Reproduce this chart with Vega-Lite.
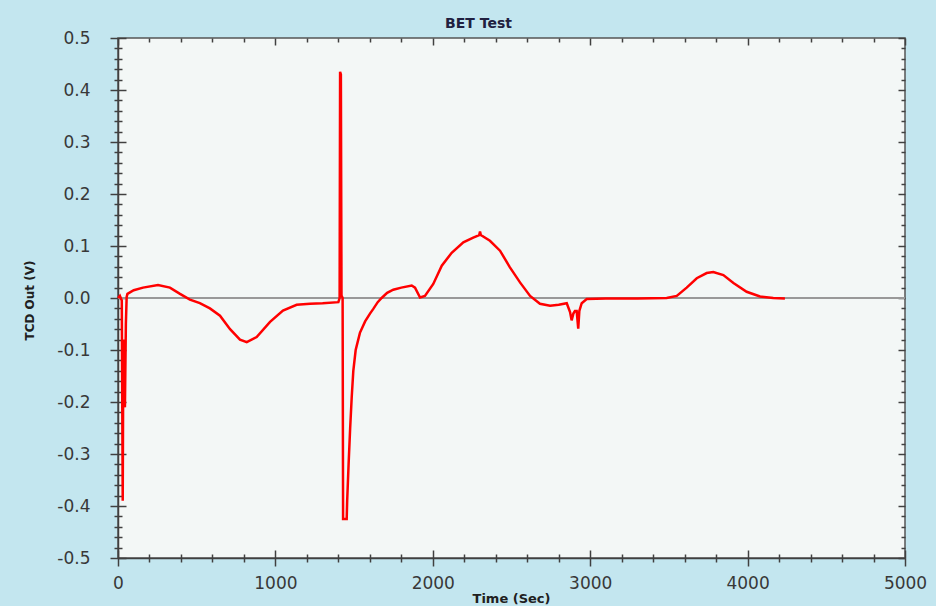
{
  "$schema": "https://vega.github.io/schema/vega-lite/v6.json",
  "width": 787,
  "height": 520,
  "autosize": {"type": "none"},
  "padding": {"left": 118, "top": 38, "right": 31, "bottom": 48},
  "background": "#c3e6ef",
  "title": {"text": "BET Test", "font": "DejaVu Sans", "fontSize": 14, "fontWeight": "bold", "color": "#202040", "anchor": "middle", "dx": -33, "offset": -2},
  "datasets": {
    "zero": [{"level": 0}],
    "tcd": [
      {"t": 0, "v": 0.0}, {"t": 12, "v": 0.004}, {"t": 24, "v": -0.005}, {"t": 30, "v": -0.39}, {"t": 34, "v": -0.08},
      {"t": 38, "v": -0.2}, {"t": 44, "v": -0.21}, {"t": 50, "v": -0.05}, {"t": 55, "v": 0.002}, {"t": 60, "v": 0.008},
      {"t": 100, "v": 0.015}, {"t": 159, "v": 0.02}, {"t": 254, "v": 0.025}, {"t": 330, "v": 0.02}, {"t": 394, "v": 0.008},
      {"t": 457, "v": -0.003}, {"t": 520, "v": -0.01}, {"t": 584, "v": -0.02}, {"t": 648, "v": -0.034}, {"t": 712, "v": -0.06},
      {"t": 775, "v": -0.08}, {"t": 818, "v": -0.085}, {"t": 881, "v": -0.075}, {"t": 966, "v": -0.046}, {"t": 1048, "v": -0.024},
      {"t": 1135, "v": -0.013}, {"t": 1220, "v": -0.011}, {"t": 1300, "v": -0.01}, {"t": 1400, "v": -0.008}, {"t": 1408, "v": 0.0},
      {"t": 1411, "v": 0.435}, {"t": 1416, "v": 0.43}, {"t": 1420, "v": 0.005}, {"t": 1427, "v": 0.0}, {"t": 1430, "v": -0.425},
      {"t": 1453, "v": -0.425}, {"t": 1456, "v": -0.39}, {"t": 1465, "v": -0.32}, {"t": 1475, "v": -0.25}, {"t": 1485, "v": -0.19},
      {"t": 1495, "v": -0.14}, {"t": 1510, "v": -0.1}, {"t": 1537, "v": -0.067}, {"t": 1570, "v": -0.045}, {"t": 1601, "v": -0.03},
      {"t": 1622, "v": -0.021}, {"t": 1650, "v": -0.008}, {"t": 1675, "v": 0.0}, {"t": 1710, "v": 0.01}, {"t": 1749, "v": 0.016},
      {"t": 1800, "v": 0.02}, {"t": 1866, "v": 0.024}, {"t": 1887, "v": 0.02}, {"t": 1919, "v": 0.001}, {"t": 1950, "v": 0.004},
      {"t": 2003, "v": 0.027}, {"t": 2057, "v": 0.062}, {"t": 2120, "v": 0.087}, {"t": 2194, "v": 0.107}, {"t": 2257, "v": 0.116},
      {"t": 2295, "v": 0.121}, {"t": 2300, "v": 0.128}, {"t": 2305, "v": 0.121}, {"t": 2363, "v": 0.11}, {"t": 2427, "v": 0.091},
      {"t": 2490, "v": 0.059}, {"t": 2554, "v": 0.03}, {"t": 2618, "v": 0.004}, {"t": 2681, "v": -0.011}, {"t": 2745, "v": -0.015},
      {"t": 2800, "v": -0.013}, {"t": 2851, "v": -0.01}, {"t": 2872, "v": -0.027}, {"t": 2882, "v": -0.043}, {"t": 2893, "v": -0.03},
      {"t": 2903, "v": -0.025}, {"t": 2914, "v": -0.025}, {"t": 2924, "v": -0.059}, {"t": 2931, "v": -0.025}, {"t": 2946, "v": -0.01},
      {"t": 2978, "v": -0.002}, {"t": 3100, "v": -0.001}, {"t": 3300, "v": -0.001}, {"t": 3486, "v": 0.0}, {"t": 3550, "v": 0.004},
      {"t": 3613, "v": 0.02}, {"t": 3677, "v": 0.038}, {"t": 3740, "v": 0.048}, {"t": 3782, "v": 0.05}, {"t": 3846, "v": 0.044},
      {"t": 3910, "v": 0.029}, {"t": 3994, "v": 0.012}, {"t": 4079, "v": 0.003}, {"t": 4163, "v": 0.0}, {"t": 4237, "v": -0.001}
    ]
  },
  "config": {
    "view": {"fill": "#f3f7f6", "stroke": "#555555", "strokeWidth": 1.5},
    "axis": {
      "grid": false,
      "domainColor": "#404040",
      "domainWidth": 1.5,
      "tickColor": "#404040",
      "tickWidth": 1.5,
      "labelFont": "DejaVu Sans",
      "labelFontSize": 17,
      "labelColor": "#383838",
      "labelOverlap": false,
      "labelFlush": false,
      "labelBound": false,
      "titleFont": "DejaVu Sans",
      "titleFontWeight": "bold",
      "titleFontSize": 12,
      "titleColor": "#202020"
    }
  },
  "resolve": {"axis": {"x": "independent", "y": "independent"}},
  "layer": [
    {
      "data": {"name": "zero"},
      "mark": {"type": "rule", "color": "#999999", "strokeWidth": 2},
      "encoding": {
        "y": {"field": "level", "type": "quantitative", "scale": {"domain": [-0.5, 0.5], "nice": false}, "axis": null}
      }
    },
    {
      "data": {"name": "tcd"},
      "mark": {"type": "point", "opacity": 0},
      "encoding": {
        "x": {"field": "t", "type": "quantitative", "scale": {"domain": [0, 5000], "nice": false},
          "axis": {"orient": "top", "labels": false, "domain": false, "title": null,
            "values": [0,200,400,600,800,1000,1200,1400,1600,1800,2000,2200,2400,2600,2800,3000,3200,3400,3600,3800,4000,4200,4400,4600,4800,5000],
            "tickSize": {"condition": {"test": "datum.value % 1000 === 0", "value": -7}, "value": -4}}},
        "y": {"field": "v", "type": "quantitative", "scale": {"domain": [-0.5, 0.5], "nice": false},
          "axis": {"orient": "right", "labels": false, "domain": false, "title": null,
            "values": [-0.5,-0.48,-0.46,-0.44,-0.42,-0.4,-0.38,-0.36,-0.34,-0.32,-0.3,-0.28,-0.26,-0.24,-0.22,-0.2,-0.18,-0.16,-0.14,-0.12,-0.1,-0.08,-0.06,-0.04,-0.02,0,0.02,0.04,0.06,0.08,0.1,0.12,0.14,0.16,0.18,0.2,0.22,0.24,0.26,0.28,0.3,0.32,0.34,0.36,0.38,0.4,0.42,0.44,0.46,0.48,0.5],
            "tickSize": {"condition": {"test": "abs(datum.value*10-round(datum.value*10))<0.001", "value": -7}, "value": -4}}}
      }
    },
    {
      "data": {"name": "tcd"},
      "mark": {"type": "point", "opacity": 0},
      "encoding": {
        "x": {"field": "t", "type": "quantitative", "scale": {"domain": [0, 5000], "nice": false},
          "axis": {"orient": "bottom", "labels": false, "domain": false, "title": null,
            "values": [0,200,400,600,800,1000,1200,1400,1600,1800,2000,2200,2400,2600,2800,3000,3200,3400,3600,3800,4000,4200,4400,4600,4800,5000],
            "tickSize": {"condition": {"test": "datum.value % 1000 === 0", "value": -8}, "value": -4}}},
        "y": {"field": "v", "type": "quantitative", "scale": {"domain": [-0.5, 0.5], "nice": false},
          "axis": {"orient": "left", "labels": false, "domain": false, "title": null,
            "values": [-0.5,-0.48,-0.46,-0.44,-0.42,-0.4,-0.38,-0.36,-0.34,-0.32,-0.3,-0.28,-0.26,-0.24,-0.22,-0.2,-0.18,-0.16,-0.14,-0.12,-0.1,-0.08,-0.06,-0.04,-0.02,0,0.02,0.04,0.06,0.08,0.1,0.12,0.14,0.16,0.18,0.2,0.22,0.24,0.26,0.28,0.3,0.32,0.34,0.36,0.38,0.4,0.42,0.44,0.46,0.48,0.5],
            "tickSize": {"condition": {"test": "abs(datum.value*10-round(datum.value*10))<0.001", "value": -8}, "value": -4}}}
      }
    },
    {
      "data": {"name": "tcd"},
      "mark": {"type": "line", "color": "#ff0000", "strokeWidth": 2.5, "interpolate": "linear"},
      "encoding": {
        "x": {"field": "t", "type": "quantitative", "scale": {"domain": [0, 5000], "nice": false},
          "axis": {"orient": "bottom", "title": "Time (Sec)", "titleFontSize": 13, "titleX": 393, "titleY": 44, "titleBaseline": "alphabetic",
            "values": [0,200,400,600,800,1000,1200,1400,1600,1800,2000,2200,2400,2600,2800,3000,3200,3400,3600,3800,4000,4200,4400,4600,4800,5000],
            "labelExpr": "datum.value % 1000 === 0 ? format(datum.value, 'd') : ''",
            "labelPadding": 9,
            "tickSize": {"condition": {"test": "datum.value % 1000 === 0", "value": 8}, "value": 4}}},
        "y": {"field": "v", "type": "quantitative", "scale": {"domain": [-0.5, 0.5], "nice": false},
          "axis": {"orient": "left", "title": "TCD Out (V)", "titleAngle": -90, "titleX": -89, "titleY": 262, "titleAlign": "center", "titleBaseline": "middle",
            "values": [-0.5,-0.48,-0.46,-0.44,-0.42,-0.4,-0.38,-0.36,-0.34,-0.32,-0.3,-0.28,-0.26,-0.24,-0.22,-0.2,-0.18,-0.16,-0.14,-0.12,-0.1,-0.08,-0.06,-0.04,-0.02,0,0.02,0.04,0.06,0.08,0.1,0.12,0.14,0.16,0.18,0.2,0.22,0.24,0.26,0.28,0.3,0.32,0.34,0.36,0.38,0.4,0.42,0.44,0.46,0.48,0.5],
            "labelExpr": "abs(datum.value*10-round(datum.value*10))<0.001 ? replace(format(datum.value, '.1f'), '\u2212', '-') : ''",
            "labelPadding": 20,
            "tickSize": {"condition": {"test": "abs(datum.value*10-round(datum.value*10))<0.001", "value": 8}, "value": 4}}}
      }
    }
  ]
}
